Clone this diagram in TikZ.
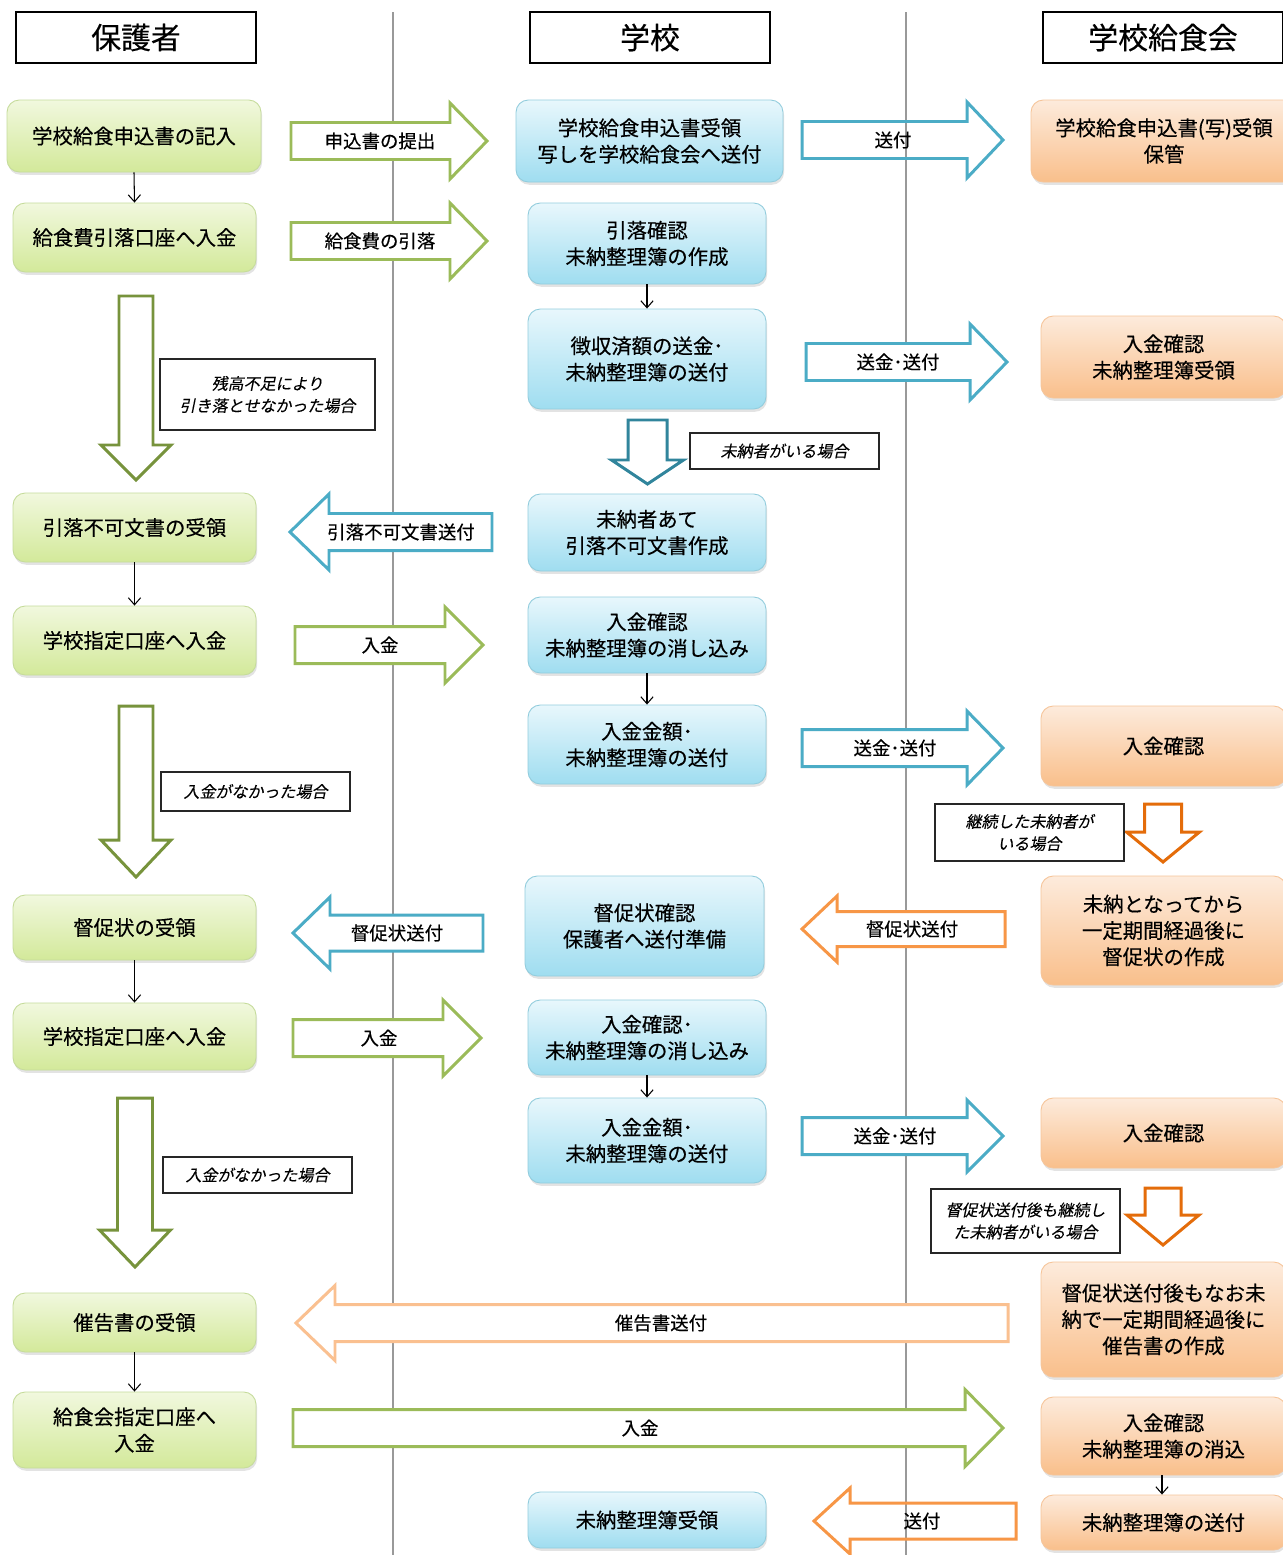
\documentclass[tikz,border=0pt]{standalone}
\usepackage{fontspec}
\setmainfont[FakeBold=0.35]{Noto Sans CJK JP}
\newfontfamily\itfont[FakeSlant=0.2,FakeBold=0.2]{Noto Sans CJK JP}
\usetikzlibrary{arrows.meta,shadows}
\newdimen\pxu \pxu=0.02cm
\definecolor{arrG}{HTML}{9BBB59}
\definecolor{arrO}{HTML}{77933C}
\definecolor{arrB}{HTML}{4BACC6}
\definecolor{arrDB}{HTML}{31859C}
\definecolor{arrOr}{HTML}{F79646}
\definecolor{arrLO}{HTML}{FAC090}
\definecolor{arrDO}{HTML}{E46C0A}
\definecolor{gTop}{HTML}{F1F8DE}
\definecolor{gBot}{HTML}{D3E99A}
\definecolor{gLine}{HTML}{C6DC9C}
\definecolor{bTop}{HTML}{E8F7FC}
\definecolor{bBot}{HTML}{9FDDF0}
\definecolor{bLine}{HTML}{93CDDD}
\definecolor{oTop}{HTML}{FDEBDC}
\definecolor{oBot}{HTML}{F9BF8B}
\definecolor{oLine}{HTML}{F6C59A}
\newcount\arrn
\newcommand\HArr[9]{%
  \draw[#1] (#2,{#5-#6}) -- (#3,{#5-#6}) -- (#3,{#5-#7}) -- (#4,#5) -- (#3,{#5+#7}) -- (#3,{#5+#6}) -- (#2,{#5+#6}) -- cycle;
  \global\advance\arrn by 1
  \node[alabel] (arrlbl\the\arrn) at (#8,#5) {#9};}
\newcommand\DArr[7]{%
  \draw[#1] ({#2-#3},#4) -- ({#2+#3},#4) -- ({#2+#3},#5) -- ({#2+#6},#5) -- (#2,#7) -- ({#2-#6},#5) -- ({#2-#3},#5) -- cycle;}
\begin{document}
\begin{tikzpicture}[x=0.02cm,y=-0.02cm,
  head/.style={draw=black, line width=1pt, fill=white, minimum width=240\pxu, minimum height=51\pxu, inner sep=0pt, font=\fontsize{17}{20}\selectfont},
  box/.style={rounded corners=7pt, line width=0.5pt, align=center, inner sep=0pt, font=\fontsize{11.6}{15}\selectfont,
    drop shadow={shadow xshift=0.6pt, shadow yshift=-1.6pt, opacity=0.22}},
  gbox/.style={box, draw=gLine, top color=gTop, bottom color=gBot},
  bbox/.style={box, draw=bLine, top color=bTop, bottom color=bBot},
  obox/.style={box, draw=oLine, top color=oTop, bottom color=oBot},
  note/.style={draw=black!85, line width=0.6pt, fill=white, align=center, inner sep=0pt, font=\itfont\fontsize{9.1}{12.6}\selectfont},
  alabel/.style={inner sep=1pt, font=\fontsize{10.5}{12}\selectfont},
  blk/.style={line width=1.7pt, draw=#1, fill=white},
  blkn/.style={line width=1.7pt, draw=#1},
  sarr/.style={line width=0.6pt, -{Straight Barb[length=4pt,width=7pt]}},
  vline/.style={draw=black!40, line width=0.6pt}
]
\useasboundingbox (0,0) rectangle (1282,1555);
\fill[white] (0,0) rectangle (1282,1555);
% lane separators
\coordinate (l1t) at (393,12); \coordinate (l1b) at (393,1555);
\coordinate (l2t) at (906,12); \coordinate (l2b) at (906,1555);
\draw[vline] (l1t) -- (l1b);
\draw[vline] (l2t) -- (l2b);

% headers
\node[head] (h1) at (136,37.5) {保護者};
\node[head] (h2) at (650,37.5) {学校};
\node[head] (h3) at (1163,37.5) {学校給食会};

% horizontal block arrows
\HArr{blk=arrG}{291}{450}{487}{141}{18.5}{38}{380}{申込書の提出}
\HArr{blkn=arrB}{802}{967}{1003}{140}{18.5}{38}{893}{送付}
\HArr{blk=arrG}{291}{450}{487}{241}{18.5}{38}{380}{給食費の引落}
\HArr{blk=arrB}{806}{970}{1007}{362}{18.5}{38}{898}{送金･送付}
\HArr{blk=arrB}{492}{329}{290}{532}{18.5}{38}{401}{引落不可文書送付}
\HArr{blk=arrG}{295}{445}{483}{645}{18.5}{38}{380}{入金}
\HArr{blk=arrB}{802}{967}{1003}{748}{18.5}{37}{895}{送金･送付}
\HArr{blk=arrB}{483}{330}{293}{933}{18}{36}{397}{督促状送付}
\HArr{blk=arrOr}{1005}{837}{802}{929}{17.5}{33}{912}{督促状送付}
\HArr{blk=arrG}{293}{443}{481}{1038}{18.5}{38}{379}{入金}
\HArr{blk=arrB}{802}{967}{1003}{1136}{18.5}{36}{895}{送金･送付}
\HArr{blk=arrLO}{1008}{335}{296}{1323}{18.5}{37.5}{661}{催告書送付}
\HArr{blk=arrG}{293}{965}{1003}{1428}{18.5}{38.5}{640}{入金}
\HArr{blkn=arrOr}{1016}{850}{814}{1521}{18}{33}{922}{送付}

% vertical block arrows
\DArr{blk=arrO}{136}{17}{296}{445}{35}{480}
\DArr{blk=arrO}{136}{17}{706}{840}{35}{877}
\DArr{blk=arrO}{135}{17.5}{1098}{1230}{35.5}{1267}
\DArr{blk=arrDB}{647.5}{19.5}{420}{460}{36}{484}
\DArr{blk=arrDO}{1163}{18.5}{804}{832}{36.5}{862}
\DArr{blk=arrDO}{1163}{18}{1188}{1215}{36}{1245}

% notes
\node[note, minimum width=215\pxu, minimum height=71\pxu] (n1) at (267.5,394.5) {残高不足により\\引き落とせなかった場合};
\node[note, minimum width=189\pxu, minimum height=39\pxu] (n2) at (255.5,791.5) {入金がなかった場合};
\node[note, minimum width=189\pxu, minimum height=36\pxu] (n3) at (257.5,1175) {入金がなかった場合};
\node[note, minimum width=189\pxu, minimum height=36\pxu] (n4) at (784.5,451) {未納者がいる場合};
\node[note, minimum width=189\pxu, minimum height=57\pxu] (n5) at (1029.5,832.5) {継続した未納者が\\いる場合};
\node[note, minimum width=189\pxu, minimum height=64\pxu] (n6) at (1025.5,1221) {督促状送付後も継続し\\た未納者がいる場合};

% left column (guardian)
\node[gbox, minimum width=254\pxu, minimum height=72\pxu] (g1) at (134,136) {学校給食申込書の記入};
\node[gbox, minimum width=243\pxu, minimum height=69\pxu] (g2) at (134.5,237.5) {給食費引落口座へ入金};
\node[gbox, minimum width=243\pxu, minimum height=69\pxu] (g3) at (134.5,527.5) {引落不可文書の受領};
\node[gbox, minimum width=243\pxu, minimum height=69\pxu] (g4) at (134.5,640.5) {学校指定口座へ入金};
\node[gbox, minimum width=243\pxu, minimum height=65\pxu] (g5) at (134.5,927.5) {督促状の受領};
\node[gbox, minimum width=243\pxu, minimum height=67\pxu] (g6) at (134.5,1036.5) {学校指定口座へ入金};
\node[gbox, minimum width=243\pxu, minimum height=59\pxu] (g7) at (134.5,1322.5) {催告書の受領};
\node[gbox, minimum width=243\pxu, minimum height=76\pxu] (g8) at (134.5,1430) {給食会指定口座へ\\入金};

% middle column (school)
\node[bbox, minimum width=267\pxu, minimum height=82\pxu] (b1) at (649.5,141) {学校給食申込書受領\\写しを学校給食会へ送付};
\node[bbox, minimum width=238\pxu, minimum height=81\pxu] (b2) at (647,243.5) {引落確認\\未納整理簿の作成};
\node[bbox, minimum width=238\pxu, minimum height=100\pxu] (b3) at (647,359) {徴収済額の送金･\\未納整理簿の送付};
\node[bbox, minimum width=238\pxu, minimum height=77\pxu] (b4) at (647,532.5) {未納者あて\\引落不可文書作成};
\node[bbox, minimum width=238\pxu, minimum height=76\pxu] (b5) at (647,635) {入金確認\\未納整理簿の消し込み};
\node[bbox, minimum width=238\pxu, minimum height=79\pxu] (b6) at (647,744.5) {入金金額･\\未納整理簿の送付};
\node[bbox, minimum width=239\pxu, minimum height=100\pxu] (b7) at (644.5,926) {督促状確認\\保護者へ送付準備};
\node[bbox, minimum width=238\pxu, minimum height=75\pxu] (b8) at (647,1037.5) {入金確認･\\未納整理簿の消し込み};
\node[bbox, minimum width=238\pxu, minimum height=85\pxu] (b9) at (647,1140.5) {入金金額･\\未納整理簿の送付};
\node[bbox, minimum width=238\pxu, minimum height=56\pxu] (b10) at (647,1520) {未納整理簿受領};

% right column (school lunch association)
\node[obox, minimum width=266\pxu, minimum height=82\pxu] (o1) at (1164,141) {学校給食申込書(写)受領\\保管};
\node[obox, minimum width=245\pxu, minimum height=82\pxu] (o2) at (1163.5,357) {入金確認\\未納整理簿受領};
\node[obox, minimum width=245\pxu, minimum height=80\pxu] (o3) at (1163.5,746) {入金確認};
\node[obox, minimum width=245\pxu, minimum height=109\pxu] (o4) at (1163.5,930.5) {未納となってから\\一定期間経過後に\\督促状の作成};
\node[obox, minimum width=245\pxu, minimum height=70\pxu] (o5) at (1163.5,1133) {入金確認};
\node[obox, minimum width=245\pxu, minimum height=115\pxu] (o6) at (1163.5,1319.5) {督促状送付後もなお未\\納で一定期間経過後に\\催告書の作成};
\node[obox, minimum width=245\pxu, minimum height=78\pxu] (o7) at (1163.5,1436) {入金確認\\未納整理簿の消込};
\node[obox, minimum width=245\pxu, minimum height=55\pxu] (o8) at (1163.5,1522.5) {未納整理簿の送付};

% small step arrows
\draw[sarr] (g1.south) -- (g2.north);
\draw[sarr] (g3.south) -- (g4.north);
\draw[sarr] (g5.south) -- (g6.north);
\draw[sarr] (g7.south) -- (g8.north);
\draw[sarr] (b2.south) -- (b3.north);
\draw[sarr] (b5.south) -- (b6.north);
\draw[sarr] (b8.south) -- (b9.north);
\draw[sarr] (o7.south -| 1162,0) -- (o8.north -| 1162,0);
\end{tikzpicture}
\end{document}
